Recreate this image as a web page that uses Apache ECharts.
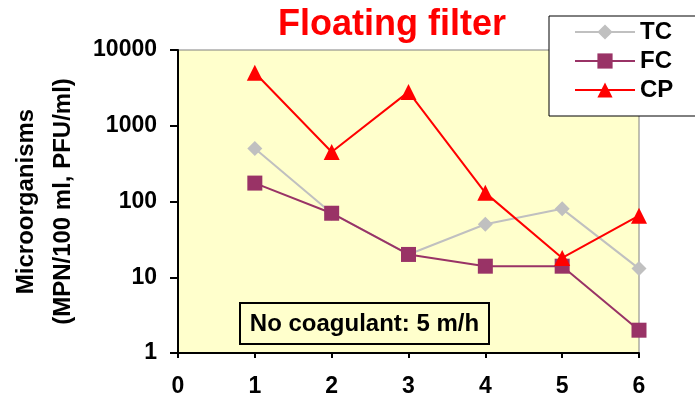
<!DOCTYPE html>
<html>
<head>
<meta charset="utf-8">
<script src="https://cdn.jsdelivr.net/npm/echarts@6/dist/echarts.min.js"></script>
<style>
html,body{margin:0;padding:0;background:#fff;}
#chart{width:695px;height:403px;}
</style>
</head>
<body>
<div id="chart"></div>
<script>
const xValues = [1, 2, 3, 4, 5, 6];
const tcValues = [500, 70, 20, 50, 80, 13];
const fcValues = [175, 70, 20, 14, 14, 2];
const cpValues = [5000, 450, 2800, 130, 18, 65];
const seriesNames = ['TC', 'FC', 'CP'];
const titleText = 'Floating filter';
const noteText = 'No coagulant: 5 m/h';
const yName = 'Microorganisms\n(MPN/100 ml, PFU/ml)';

const FONT = '"Liberation Sans", Arial, sans-serif';
const pairs = v => xValues.map((x, i) => [x, v[i]]);

const chart = echarts.init(document.getElementById('chart'));
chart.setOption({
  animation: false,
  backgroundColor: '#ffffff',
  textStyle: { fontFamily: FONT },
  title: {
    text: titleText,
    left: 273, top: 2,
    textStyle: { color: '#FF0000', fontSize: 36, fontWeight: 'bold', fontFamily: FONT }
  },
  legend: {
    orient: 'vertical',
    left: 549, top: 16,
    padding: [4, 90, 14, 25],
    itemGap: 5,
    itemWidth: 60,
    itemHeight: 19,
    borderColor: '#000', borderWidth: 1,
    backgroundColor: '#fff',
    data: seriesNames,
    textStyle: { fontSize: 24, fontWeight: 'bold', color: '#000', fontFamily: FONT }
  },
  grid: {
    left: 174, top: 50, right: 56, bottom: 50,
    show: true, backgroundColor: '#FFFFCC',
    borderColor: '#808080', borderWidth: 1
  },
  xAxis: {
    type: 'value', min: 0, max: 6, interval: 1,
    axisLine: { lineStyle: { color: '#000', width: 2 } },
    axisTick: { show: true, length: 5, lineStyle: { color: '#000', width: 2 } },
    splitLine: { show: false },
    axisLabel: { fontSize: 23, fontWeight: 'bold', color: '#000', margin: 22, fontFamily: FONT }
  },
  yAxis: {
    type: 'log', logBase: 10, min: 1, max: 10000,
    name: yName, nameLocation: 'middle', nameRotate: 90, nameGap: 96,
    nameTextStyle: { fontSize: 24, fontWeight: 'bold', color: '#000', lineHeight: 37, fontFamily: FONT },
    axisLine: { show: true, lineStyle: { color: '#000', width: 2 } },
    axisTick: { show: true, length: 8, lineStyle: { color: '#000', width: 2 } },
    minorTick: { show: false },
    splitLine: { show: false },
    axisLabel: { fontSize: 23, fontWeight: 'bold', color: '#000', margin: 21, fontFamily: FONT,
      formatter: v => String(Math.round(v)) }
  },
  graphic: [{
    type: 'group', left: 239, top: 302,
    children: [
      { type: 'rect', shape: { x: 0, y: 0, width: 249, height: 41 },
        style: { fill: '#FFFFCC', stroke: '#000', lineWidth: 2 } },
      { type: 'text', x: 124.5, y: 21,
        style: { text: noteText, align: 'center', verticalAlign: 'middle',
          font: 'bold 24px "Liberation Sans", Arial, sans-serif', fill: '#000' } }
    ]
  }],
  series: [
    { name: 'TC', type: 'line', data: pairs(tcValues), symbol: 'diamond', symbolSize: 15,
      itemStyle: { color: '#C0C0C0' }, lineStyle: { color: '#C0C0C0', width: 2 } },
    { name: 'FC', type: 'line', data: pairs(fcValues), symbol: 'rect', symbolSize: 15,
      itemStyle: { color: '#993366' }, lineStyle: { color: '#993366', width: 2 } },
    { name: 'CP', type: 'line', data: pairs(cpValues), symbol: 'triangle', symbolSize: 16,
      itemStyle: { color: '#FF0000' }, lineStyle: { color: '#FF0000', width: 2 } }
  ]
});
</script>
</body>
</html>
